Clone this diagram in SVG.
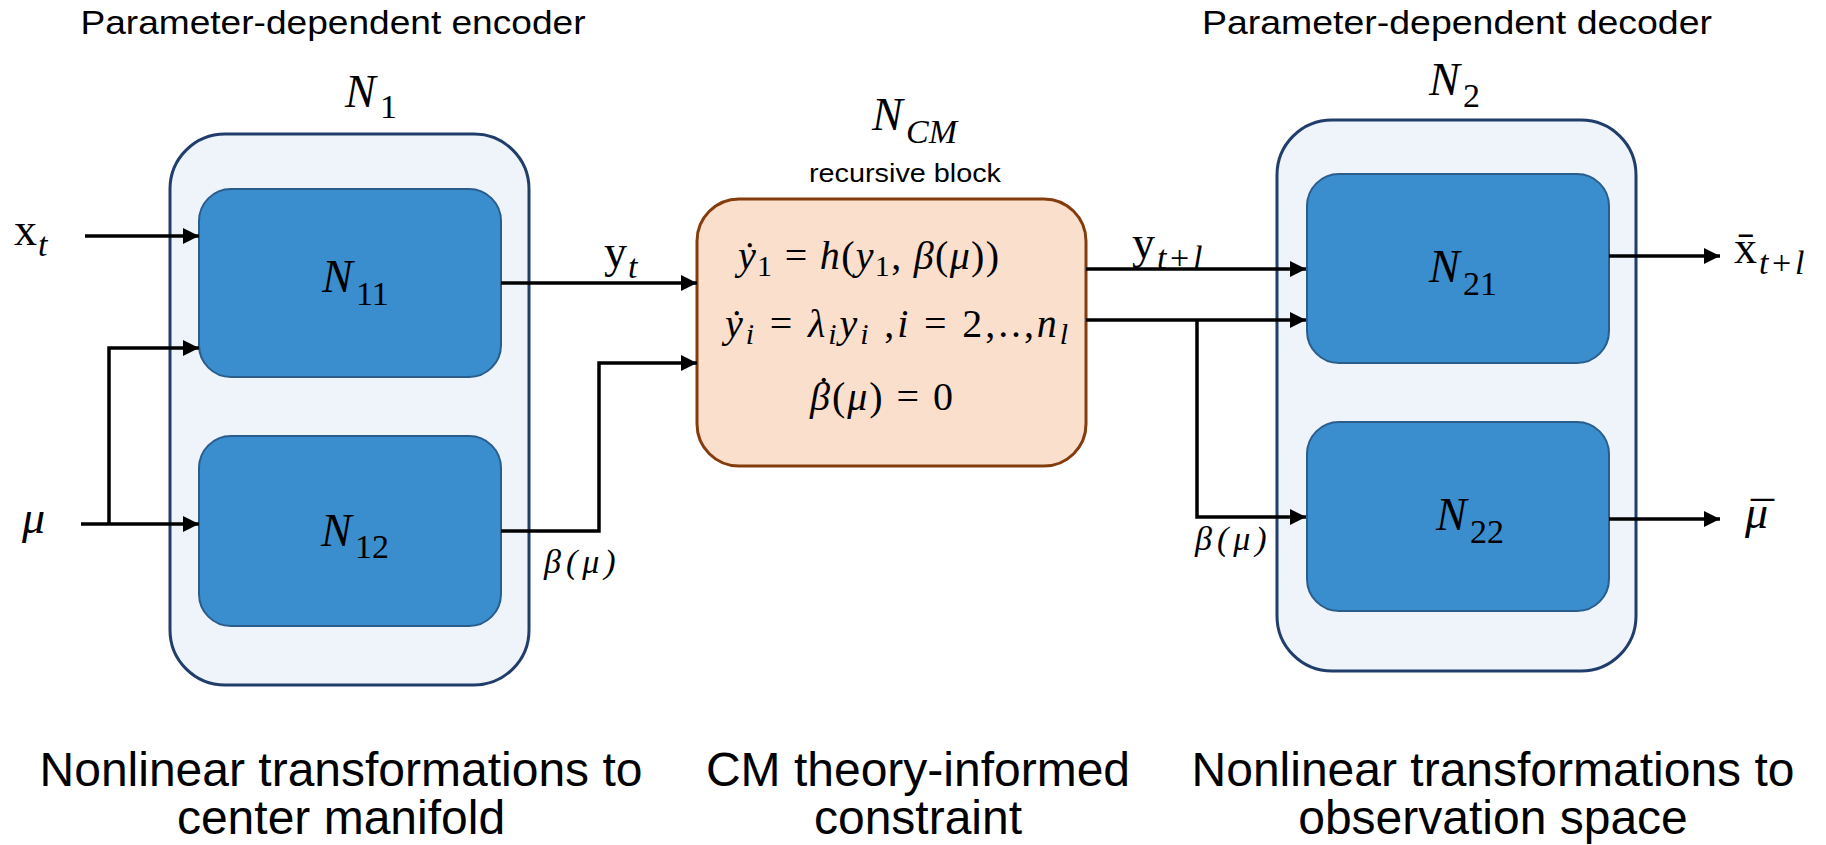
<svg xmlns="http://www.w3.org/2000/svg" width="1826" height="845" viewBox="0 0 1826 845">
<style>
.outer{fill:#EFF4FB;stroke:#203D6B;stroke-width:3}
.inner{fill:#3A8ECD;stroke:#2A5C8C;stroke-width:2}
.cm{fill:#F9DFCC;stroke:#843C0C;stroke-width:3}
.conn{fill:none;stroke:#000;stroke-width:3.5}
.sans{font-family:"Liberation Sans",Arial,sans-serif;fill:#000}
.m{font-family:"Liberation Serif","Times New Roman",serif;fill:#000}
.i{font-style:italic}
.n{font-style:normal}
.big{font-size:46px}
.sub{font-size:34px}
.eq{font-size:40px}
.es{font-size:30px}
.lab{font-size:46px}
.ls{font-size:34px}
.bl{font-size:34px;font-style:italic;letter-spacing:5px}
</style>
<defs>
<marker id="ah" viewBox="0 0 10 10" refX="10" refY="5" markerWidth="16" markerHeight="16" markerUnits="userSpaceOnUse" orient="auto"><path d="M0,0 L10,5 L0,10 z" fill="#000"/></marker>
</defs>

<g id="titles">
<text class="sans" x="333" y="34" font-size="34" text-anchor="middle" textLength="505" lengthAdjust="spacingAndGlyphs">Parameter-dependent encoder</text>
<text class="sans" x="1457" y="34" font-size="34" text-anchor="middle" textLength="510" lengthAdjust="spacingAndGlyphs">Parameter-dependent decoder</text>
</g>

<g id="N1">
<rect class="outer" x="170" y="134" width="359" height="551" rx="55" ry="55"/>
<text class="m big i" x="345" y="107">N<tspan class="sub n" x="380" y="118">1</tspan></text>
</g>
<g id="N11">
<rect class="inner" x="199" y="189" width="302" height="188" rx="32" ry="32"/>
<text class="m big i" x="322" y="292">N<tspan class="sub n" x="356" y="305">11</tspan></text>
</g>
<g id="N12">
<rect class="inner" x="199" y="436" width="302" height="190" rx="32" ry="32"/>
<text class="m big i" x="321" y="546">N<tspan class="sub n" x="355" y="558">12</tspan></text>
</g>

<g id="NCM">
<rect class="cm" x="697" y="199" width="389" height="267" rx="42" ry="42"/>
<text class="m big i" x="872" y="130">N<tspan class="sub" x="906" y="143">CM</tspan></text>
<text class="sans" x="905" y="182" font-size="26" text-anchor="middle" textLength="192" lengthAdjust="spacingAndGlyphs">recursive block</text>
<text class="m eq" x="738" y="269" textLength="261" lengthAdjust="spacing"><tspan class="i">ẏ</tspan><tspan class="es" dy="7">1</tspan><tspan dy="-7"> = </tspan><tspan class="i">h</tspan>(<tspan class="i">y</tspan><tspan class="es" dy="7">1</tspan><tspan dy="-7">, </tspan><tspan class="i">β</tspan>(<tspan class="i">μ</tspan>))</text>
<text class="m eq" x="725" y="337" textLength="343" lengthAdjust="spacing"><tspan class="i">ẏ</tspan><tspan class="es i" dy="7">i</tspan><tspan dy="-7"> = </tspan><tspan class="i">λ</tspan><tspan class="es i" dy="7">i</tspan><tspan class="i" dy="-7">y</tspan><tspan class="es i" dy="7">i</tspan><tspan dy="-7">  ,</tspan><tspan class="i">i</tspan> = 2,..,<tspan class="i">n</tspan><tspan class="es i" dy="7">l</tspan></text>
<text class="m eq" x="810" y="410" textLength="143" lengthAdjust="spacing"><tspan class="i">β</tspan>(<tspan class="i">μ</tspan>) = 0</text>
<text class="m eq" x="817" y="404">˙</text>
</g>

<g id="N2">
<rect class="outer" x="1277" y="120" width="359" height="551" rx="55" ry="55"/>
<text class="m big i" x="1429" y="95">N<tspan class="sub n" x="1463" y="107">2</tspan></text>
</g>
<g id="N21">
<rect class="inner" x="1307" y="174" width="302" height="189" rx="32" ry="32"/>
<text class="m big i" x="1429" y="282">N<tspan class="sub n" x="1463" y="295">21</tspan></text>
</g>
<g id="N22">
<rect class="inner" x="1307" y="422" width="302" height="189" rx="32" ry="32"/>
<text class="m big i" x="1436" y="530">N<tspan class="sub n" x="1470" y="543">22</tspan></text>
</g>

<g id="connectors">
<path class="conn" d="M85,236 H199" marker-end="url(#ah)"/>
<path class="conn" d="M81,524 H199" marker-end="url(#ah)"/>
<path class="conn" d="M109,524 V348 H199" marker-end="url(#ah)"/>
<path class="conn" d="M501,283 H697" marker-end="url(#ah)"/>
<path class="conn" d="M501,531 H599 V363 H697" marker-end="url(#ah)"/>
<path class="conn" d="M1086,269 H1306" marker-end="url(#ah)"/>
<path class="conn" d="M1086,320 H1306" marker-end="url(#ah)"/>
<path class="conn" d="M1197,320 V517 H1306" marker-end="url(#ah)"/>
<path class="conn" d="M1609,256 H1720" marker-end="url(#ah)"/>
<path class="conn" d="M1609,519 H1720" marker-end="url(#ah)"/>
</g>

<g id="labels">
<text class="m lab" x="14" y="245">x<tspan class="ls i" x="38" y="256">t</tspan></text>
<text class="m lab i" x="22" y="533">μ</text>
<text class="m lab" x="604" y="267">y<tspan class="ls i" x="628" y="278">t</tspan></text>
<text class="m bl" x="544" y="573">β(μ)</text>
<text class="m lab" x="1132" y="258">y<tspan class="ls i" x="1157" y="269">t</tspan><tspan class="ls n" x="1170" y="269">+</tspan><tspan class="ls i" x="1193" y="269">l</tspan></text>
<text class="m bl" x="1195" y="550">β(μ)</text>
<text class="m lab" x="1734" y="263">x̄<tspan class="ls i" x="1759" y="274">t</tspan><tspan class="ls n" x="1772" y="274">+</tspan><tspan class="ls i" x="1795" y="274">l</tspan></text>
<text class="m lab i" x="1745" y="528">μ</text>
<text class="m lab" x="1751" y="534">¯</text>
</g>

<g id="captions">
<text class="sans" font-size="48" x="341" y="786" text-anchor="middle">Nonlinear transformations to</text>
<text class="sans" font-size="48" x="341" y="834" text-anchor="middle">center manifold</text>
<text class="sans" font-size="48" x="918" y="786" text-anchor="middle">CM theory-informed</text>
<text class="sans" font-size="48" x="918" y="834" text-anchor="middle">constraint</text>
<text class="sans" font-size="48" x="1493" y="786" text-anchor="middle">Nonlinear transformations to</text>
<text class="sans" font-size="48" x="1493" y="834" text-anchor="middle">observation space</text>
</g>
</svg>
